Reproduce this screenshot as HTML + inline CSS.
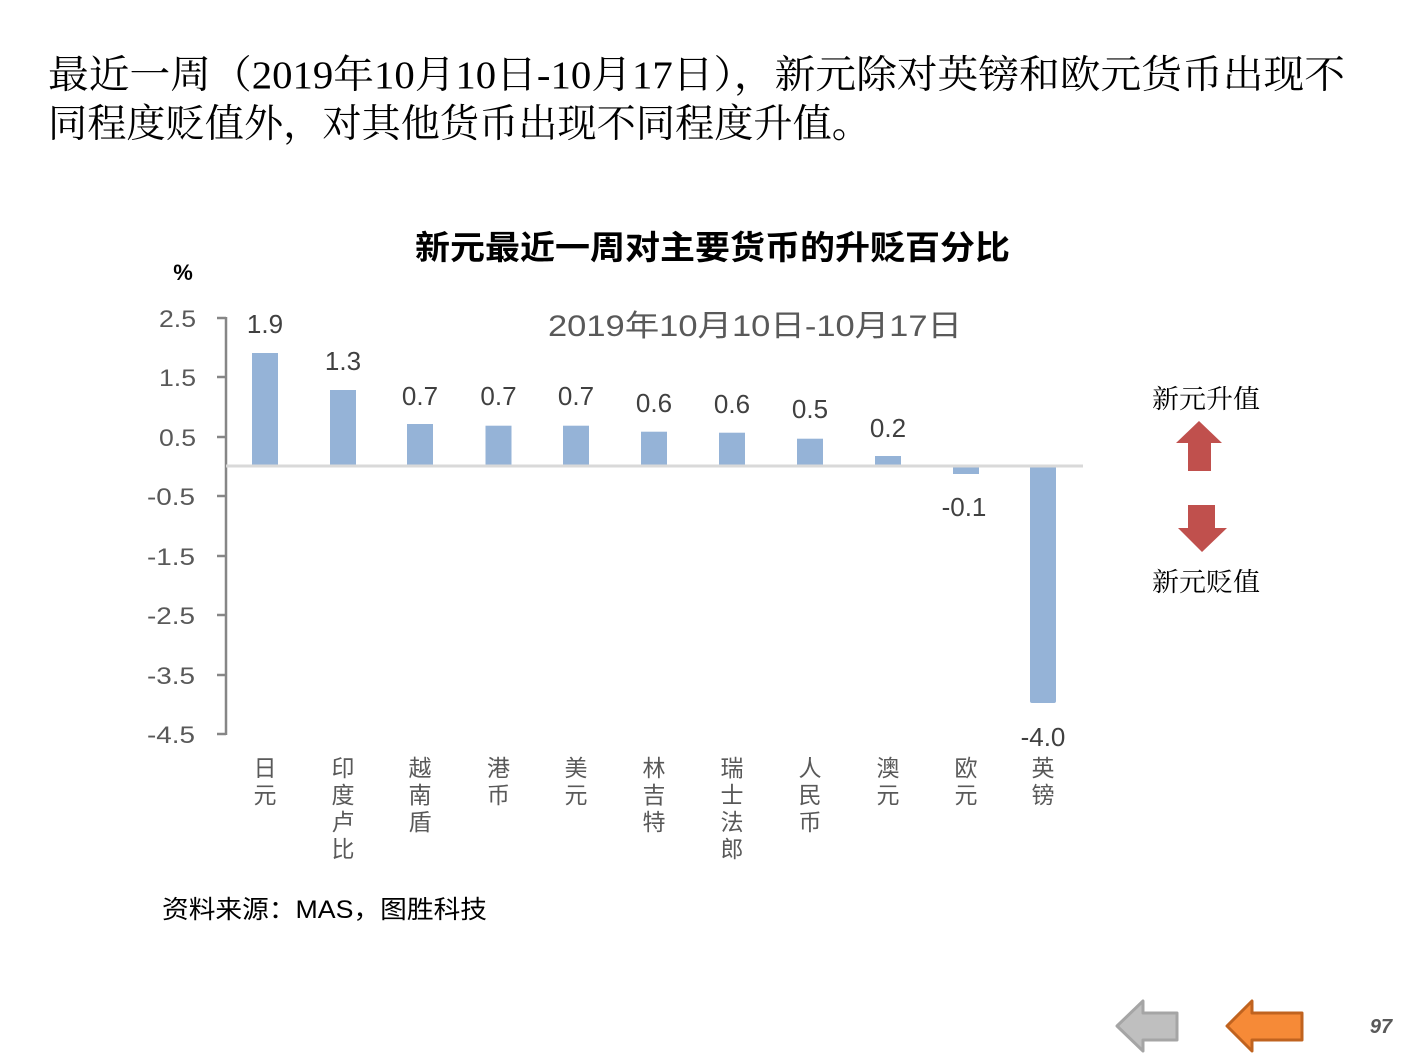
<!DOCTYPE html>
<html><head><meta charset="utf-8"><style>
html,body{margin:0;padding:0;background:#fff;}
svg{display:block;}
</style></head><body>
<svg width="1411" height="1058" viewBox="0 0 1411 1058" xmlns="http://www.w3.org/2000/svg">
<rect width="1411" height="1058" fill="#fff"/>
<!-- heading -->
<g font-family="'Liberation Serif','Noto Serif CJK SC',serif" font-size="39" fill="#000">
<text x="48" y="88" textLength="1297" lengthAdjust="spacingAndGlyphs">最近一周（2019年10月10日-10月17日），新元除对英镑和欧元货币出现不</text>
<text x="48" y="137" textLength="823" lengthAdjust="spacingAndGlyphs">同程度贬值外，对其他货币出现不同程度升值。</text>
</g>
<!-- chart title -->
<text x="415" y="259" font-family="'Liberation Sans','Noto Sans CJK SC',sans-serif" font-weight="bold" font-size="33" fill="#000" textLength="595" lengthAdjust="spacingAndGlyphs">新元最近一周对主要货币的升贬百分比</text>
<!-- subtitle -->
<text x="548" y="336" font-family="'Liberation Sans','Noto Sans CJK SC',sans-serif" font-size="30" fill="#595959" textLength="414" lengthAdjust="spacingAndGlyphs">2019年10月10日-10月17日</text>
<!-- percent -->
<text x="183" y="280" text-anchor="middle" font-family="'Liberation Sans',sans-serif" font-weight="bold" font-size="22" fill="#000">%</text>
<!-- y tick labels -->
<g font-family="'Liberation Sans',sans-serif" font-size="24" fill="#595959">
<text x="159" y="327" textLength="37" lengthAdjust="spacingAndGlyphs">2.5</text>
<text x="159" y="386" textLength="37" lengthAdjust="spacingAndGlyphs">1.5</text>
<text x="159" y="446" textLength="37" lengthAdjust="spacingAndGlyphs">0.5</text>
<text x="147" y="505" textLength="48" lengthAdjust="spacingAndGlyphs">-0.5</text>
<text x="147" y="565" textLength="48" lengthAdjust="spacingAndGlyphs">-1.5</text>
<text x="147" y="624" textLength="48" lengthAdjust="spacingAndGlyphs">-2.5</text>
<text x="147" y="684" textLength="48" lengthAdjust="spacingAndGlyphs">-3.5</text>
<text x="147" y="743" textLength="48" lengthAdjust="spacingAndGlyphs">-4.5</text>
</g>
<!-- axis -->
<g stroke="#868686" stroke-width="2.5">
<line x1="226" y1="317" x2="226" y2="735"/>
<line x1="217" y1="318" x2="226" y2="318"/>
<line x1="217" y1="377" x2="226" y2="377"/>
<line x1="217" y1="437" x2="226" y2="437"/>
<line x1="217" y1="496" x2="226" y2="496"/>
<line x1="217" y1="556" x2="226" y2="556"/>
<line x1="217" y1="615" x2="226" y2="615"/>
<line x1="217" y1="675" x2="226" y2="675"/>
<line x1="217" y1="734" x2="226" y2="734"/>
</g>
<!-- bars -->
<g fill="#95B3D7">
<rect x="252" y="353" width="26" height="113"/>
<rect x="330" y="390" width="26" height="76"/>
<rect x="407" y="424" width="26" height="42"/>
<rect x="485.5" y="425.7" width="26" height="40.3"/>
<rect x="563" y="425.7" width="26" height="40.3"/>
<rect x="641" y="431.7" width="26" height="34.3"/>
<rect x="719" y="432.7" width="26" height="33.3"/>
<rect x="797" y="438.7" width="26" height="27.3"/>
<rect x="875" y="456" width="26" height="10"/>
<rect x="953" y="466" width="26" height="8"/>
<rect x="1030" y="466" width="26" height="237" rx="2"/>
</g>
<line x1="226" y1="466" x2="1083" y2="466" stroke="#d9d9d9" stroke-width="3"/>
<!-- data labels -->
<g font-family="'Liberation Sans',sans-serif" font-size="26" fill="#404040" text-anchor="middle">
<text x="265" y="333">1.9</text>
<text x="343" y="370">1.3</text>
<text x="420" y="405">0.7</text>
<text x="498.5" y="405">0.7</text>
<text x="576" y="405">0.7</text>
<text x="654" y="412">0.6</text>
<text x="732" y="413">0.6</text>
<text x="810" y="418">0.5</text>
<text x="888" y="437">0.2</text>
<text x="964" y="516">-0.1</text>
<text x="1043" y="746">-4.0</text>
</g>
<!-- category labels -->
<g font-family="'Liberation Sans','Noto Sans CJK SC',sans-serif" font-size="23" fill="#595959" text-anchor="middle">
<text x="265" y="776">日</text><text x="265" y="803">元</text>
<text x="343" y="776">印</text><text x="343" y="803">度</text><text x="343" y="830">卢</text><text x="343" y="857">比</text>
<text x="420" y="776">越</text><text x="420" y="803">南</text><text x="420" y="830">盾</text>
<text x="498.5" y="776">港</text><text x="498.5" y="803">币</text>
<text x="576" y="776">美</text><text x="576" y="803">元</text>
<text x="654" y="776">林</text><text x="654" y="803">吉</text><text x="654" y="830">特</text>
<text x="732" y="776">瑞</text><text x="732" y="803">士</text><text x="732" y="830">法</text><text x="732" y="857">郎</text>
<text x="810" y="776">人</text><text x="810" y="803">民</text><text x="810" y="830">币</text>
<text x="888" y="776">澳</text><text x="888" y="803">元</text>
<text x="966" y="776">欧</text><text x="966" y="803">元</text>
<text x="1043" y="776">英</text><text x="1043" y="803">镑</text>
</g>
<!-- right legend -->
<g font-family="'Liberation Serif','Noto Serif CJK SC',serif" font-size="26" fill="#000">
<text x="1152" y="408" textLength="108" lengthAdjust="spacingAndGlyphs">新元升值</text>
<text x="1152" y="591" textLength="108" lengthAdjust="spacingAndGlyphs">新元贬值</text>
</g>
<polygon points="1199,421 1222,443 1211,443 1211,471 1188,471 1188,443 1176,443" fill="#C0504D"/>
<polygon points="1188,505 1215,505 1215,528 1227,528 1202,552 1178,528 1188,528" fill="#C0504D"/>
<!-- source -->
<text x="162" y="918" font-family="'Liberation Sans','Noto Sans CJK SC',sans-serif" font-size="25" fill="#000" textLength="325" lengthAdjust="spacingAndGlyphs">资料来源：MAS，图胜科技</text>
<!-- nav arrows -->
<polygon points="1117,1026 1143,1001 1143,1013 1177,1013 1177,1040 1143,1040 1143,1051" fill="#BFBFBF" stroke="#A5A5A5" stroke-width="3" stroke-linejoin="round"/>
<polygon points="1227,1026 1252,1001 1252,1013 1302,1013 1302,1040 1252,1040 1252,1051" fill="#F68A37" stroke="#C0631F" stroke-width="3" stroke-linejoin="round"/>
<text x="1381" y="1033" text-anchor="middle" font-family="'Liberation Sans',sans-serif" font-weight="bold" font-style="italic" font-size="20" fill="#595959">97</text>
</svg>
</body></html>
